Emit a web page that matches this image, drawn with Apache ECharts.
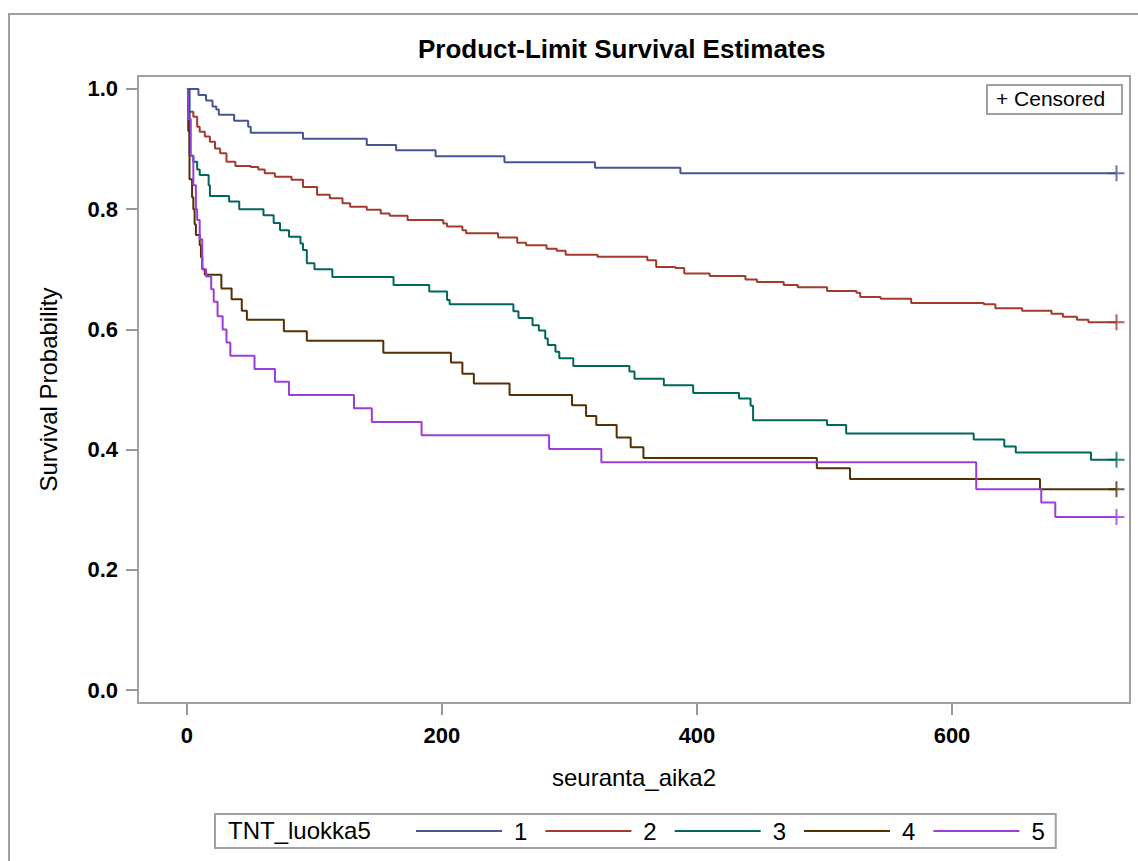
<!DOCTYPE html>
<html lang="en">
<head>
<meta charset="UTF-8">
<title>Product-Limit Survival Estimates</title>
<script src="https://cdn.jsdelivr.net/npm/echarts@6/dist/echarts.min.js"></script>
<style>
html, body { margin: 0; padding: 0; background: #fff; }
#main { width: 1138px; height: 861px; }
</style>
</head>
<body>
<div id="main"></div>
<script type="text/javascript">

// group names and SAS HTMLBlue colours
var groups = ['1', '2', '3', '4', '5'];
var colors = ['#445694', '#A23A2E', '#01665E', '#543005', '#9D3CDB'];
var xTicks = [0, 200, 400, 600];
var yTicks = [0, 0.2, 0.4, 0.6, 0.8, 1.0];

// Kaplan-Meier estimates [time, survival]
var km1 = [[0, 1], [9, 0.990], [15, 0.981], [20, 0.971], [23, 0.966], [25, 0.957], [37, 0.947], [48, 0.937],
    [50, 0.927], [91, 0.917], [141, 0.907], [164, 0.898], [195, 0.888], [249, 0.878], [320, 0.869],
    [387, 0.860], [729, 0.860]];

var km2 = [[0, 1], [1, 0.962], [5, 0.954], [8, 0.937], [10, 0.929], [14, 0.921], [18, 0.912], [22, 0.901],
    [26, 0.893], [31, 0.879], [38, 0.872], [50, 0.870], [56, 0.866], [61, 0.860], [69, 0.854], [82, 0.849],
    [91, 0.837], [102, 0.824], [112, 0.818], [122, 0.810], [128, 0.804], [141, 0.799], [152, 0.793],
    [159, 0.789], [173, 0.782], [201, 0.776], [204, 0.771], [216, 0.765], [219, 0.760], [244, 0.753],
    [259, 0.744], [266, 0.740], [282, 0.734], [290, 0.731], [297, 0.724], [322, 0.721], [361, 0.715],
    [368, 0.704], [383, 0.702], [390, 0.693], [410, 0.689], [438, 0.683], [447, 0.679], [468, 0.674],
    [479, 0.670], [502, 0.664], [525, 0.661], [528, 0.654], [544, 0.651], [568, 0.644], [625, 0.642],
    [634, 0.635], [655, 0.631], [678, 0.626], [687, 0.621], [698, 0.616], [707, 0.612], [729, 0.612]];

var km3 = [[0, 1], [2, 0.889], [5, 0.879], [8, 0.866], [10, 0.857], [17, 0.840], [18, 0.822], [33, 0.813],
    [41, 0.800], [60, 0.790], [68, 0.777], [73, 0.765], [80, 0.754], [89, 0.743], [91, 0.732], [94, 0.710],
    [100, 0.700], [114, 0.687], [162, 0.674], [190, 0.663], [204, 0.649], [206, 0.642], [256, 0.630],
    [260, 0.619], [271, 0.607], [276, 0.598], [281, 0.585], [283, 0.574], [289, 0.563], [292, 0.552],
    [303, 0.539], [347, 0.530], [351, 0.518], [374, 0.507], [397, 0.494], [433, 0.485], [442, 0.473],
    [444, 0.449], [502, 0.441], [517, 0.427], [617, 0.417], [641, 0.405], [650, 0.395], [709, 0.383],
    [729, 0.383]];

var km4 = [[0, 1], [1, 0.93], [2, 0.85], [4, 0.82], [5, 0.80], [6, 0.775], [7, 0.757], [10, 0.74],
    [11, 0.72], [12, 0.70], [14, 0.691], [27, 0.668], [35, 0.650], [43, 0.631], [47, 0.616], [76, 0.597],
    [94, 0.581], [154, 0.561], [207, 0.545], [216, 0.526], [225, 0.510], [253, 0.491], [302, 0.474],
    [313, 0.456], [321, 0.441], [337, 0.420], [348, 0.404], [358, 0.386], [494, 0.369], [520, 0.351],
    [669, 0.334], [729, 0.334]];

var km5 = [[0, 1], [1, 0.95], [3, 0.889], [5, 0.84], [7, 0.80], [8, 0.782], [10, 0.75], [12, 0.70],
    [15, 0.688], [19, 0.667], [21, 0.646], [24, 0.622], [28, 0.600], [31, 0.578], [34, 0.556], [53, 0.534],
    [69, 0.513], [80, 0.491], [131, 0.469], [145, 0.446], [184, 0.424], [284, 0.401], [325, 0.379],
    [619, 0.334], [670, 0.312], [681, 0.288], [729, 0.288]];

var curves = [km1, km2, km3, km4, km5];

var series = [];
var censored = [];
for (var i = 0; i < curves.length; i++) {
    series.push({
        name: groups[i],
        type: 'line',
        step: 'end',
        symbol: 'none',
        data: curves[i],
        lineStyle: {color: colors[i], width: 2},
        itemStyle: {color: colors[i]}
    });
    // censored mark at the end of follow-up
    var last = curves[i][curves[i].length - 1];
    censored.push({value: last, itemStyle: {borderColor: colors[i]}});
}
series.push({
    name: 'Censored',
    type: 'scatter',
    symbol: 'path://M0,7L14,7M7,0L7,14',
    symbolSize: 16,
    data: censored,
    itemStyle: {color: 'rgba(0,0,0,0)', borderWidth: 2},
    z: 5
});

var myChart = echarts.init(document.getElementById('main'), null, {renderer: 'svg'});

myChart.setOption({
    animation: false,
    textStyle: {fontFamily: 'Liberation Sans, Arial, sans-serif'},
    title: {
        text: 'Product-Limit Survival Estimates',
        left: 413,
        top: 31,
        textStyle: {fontSize: 26, fontWeight: 'bold', color: '#000'}
    },
    grid: {
        left: 138, right: 8, top: 76, bottom: 158,
        show: true, borderColor: '#a0a0a0', borderWidth: 2
    },
    xAxis: {
        type: 'value',
        min: -38.4,
        max: 739.6,
        name: 'seuranta_aika2',
        nameLocation: 'middle',
        nameGap: 62,
        nameTextStyle: {fontSize: 24, color: '#000'},
        splitLine: {show: false},
        axisLine: {show: true, onZero: false, lineStyle: {color: '#a0a0a0', width: 2}},
        axisTick: {show: true, length: 12, customValues: xTicks, lineStyle: {color: '#999', width: 2}},
        axisLabel: {customValues: xTicks, margin: 21, fontSize: 22, fontWeight: 'bold', color: '#000'}
    },
    yAxis: {
        type: 'value',
        min: -0.0216,
        max: 1.0216,
        name: 'Survival Probability',
        nameLocation: 'middle',
        nameGap: 78,
        nameTextStyle: {fontSize: 24, color: '#000'},
        splitLine: {show: false},
        axisLine: {show: true, onZero: false, lineStyle: {color: '#a0a0a0', width: 2}},
        axisTick: {show: true, length: 12, customValues: yTicks, lineStyle: {color: '#999', width: 2}},
        axisLabel: {
            customValues: yTicks, margin: 20, fontSize: 22, fontWeight: 'bold', color: '#000',
            formatter: function (v) { return v.toFixed(1); }
        }
    },
    legend: {
        data: groups,
        left: 215,
        top: 814,
        padding: [5, 11, 5, 201],
        icon: 'rect',
        itemWidth: 86,
        itemHeight: 2,
        itemGap: 18,
        borderColor: '#a0a0a0',
        borderWidth: 2,
        textStyle: {fontSize: 24, color: '#000', padding: [0, 0, 0, 7]}
    },
    graphic: [
        {type: 'rect', shape: {x: 9, y: 14, width: 1140, height: 860}, style: {fill: 'none', stroke: '#a0a0a0', lineWidth: 2}, silent: true},
        {type: 'text', left: 228, top: 818, style: {text: 'TNT_luokka5', fontSize: 24, fill: '#000', fontFamily: 'Liberation Sans, Arial, sans-serif'}},
        {type: 'rect', shape: {x: 987, y: 85, width: 135, height: 29}, style: {fill: '#fff', stroke: '#a0a0a0', lineWidth: 2}},
        {type: 'text', left: 996, top: 88, style: {text: '+ Censored', fontSize: 21, fill: '#000', fontFamily: 'Liberation Sans, Arial, sans-serif'}}
    ],
    series: series
});

</script>
</body>
</html>
